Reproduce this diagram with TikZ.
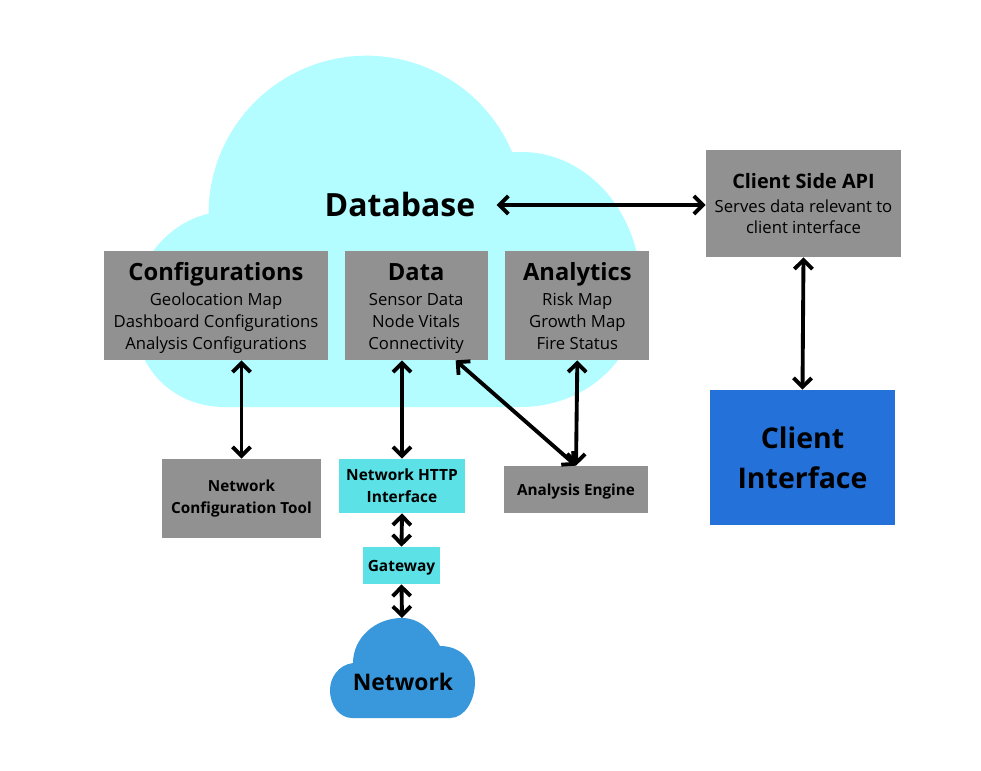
\documentclass[tikz,border=0pt]{standalone}
\usepackage{fontspec}
\setmainfont{Open Sans}
\usepackage{xcolor}
\usepackage{tikz}
\usetikzlibrary{arrows.meta, positioning, calc}

\definecolor{cloudcyan}{RGB}{179,252,255}
\definecolor{boxgray}{RGB}{145,145,145}
\definecolor{ifcyan}{RGB}{92,225,230}
\definecolor{clientblue}{RGB}{35,113,217}
\definecolor{netblue}{RGB}{56,152,219}

\newcommand{\storetitle}[1]{{\bfseries\fontsize{13.5}{15}\selectfont\rule{0pt}{14.6pt}#1}}

\begin{document}
\begin{tikzpicture}[
    x=0.02cm, y=-0.02cm,
    store/.style={fill=boxgray, minimum height=2.18cm, align=center, inner sep=0pt, font=\fontsize{9.5}{12.5}\selectfont},
    tool/.style={fill=boxgray, align=center, inner sep=0pt, font=\bfseries\fontsize{8.7}{12.5}\selectfont},
    iface/.style={fill=ifcyan, align=center, inner sep=0pt, font=\bfseries\fontsize{8.8}{12.5}\selectfont},
    oneline/.style={text depth=0pt},
    dbl/.style={{Straight Barb[length=1.8mm,width=3.6mm]}-{Straight Barb[length=1.8mm,width=3.6mm]}, line width=2.2pt}
]
\useasboundingbox (0,0) rectangle (981,771);

% Database cloud
\fill[cloudcyan] (225,407) -- (520,407) .. controls (590,407) and (641,355) .. (641,290)
    .. controls (641,210) and (585,152) .. (522,152) -- (512,152)
    arc[start angle=-23, end angle=-180, radius=158]
    .. controls (170,222) and (133,262) .. (133,310)
    .. controls (133,365) and (170,407) .. cycle;
\node[font=\bfseries\fontsize{18.2}{20}\selectfont, inner xsep=0.42cm] (db) at (400,205) {Database};

% Stores inside the database
\node[store, minimum width=4.48cm] (conf) at (216,305.5) {\storetitle{Configurations}\\[1.9pt] Geolocation Map\\ Dashboard Configurations\\ Analysis Configurations\strut};
\node[store, minimum width=2.86cm, right=0.32cm of conf] (data) {\storetitle{Data}\\[1.9pt] Sensor Data\\ Node Vitals\\ Connectivity\strut};
\node[store, minimum width=2.88cm, right=0.34cm of data] (ana) {\storetitle{Analytics}\\[1.9pt] Risk Map\\ Growth Map\\ Fire Status\strut};

% Client side
\node[store, minimum width=3.9cm, minimum height=2.14cm, font=\fontsize{9.5}{12}\selectfont] (api) at (803.5,203.5) {{\bfseries\fontsize{11.3}{13}\selectfont Client Side API}\\[1.5pt] Serves data relevant to\\ client interface};
\node[fill=clientblue, minimum width=3.7cm, minimum height=2.7cm, align=center, font=\bfseries\fontsize{16.2}{22.7}\selectfont] (ci) at (802.5,457.5) {Client\\ Interface};

% Tools and interfaces
\node[tool, minimum width=3.18cm, minimum height=1.58cm] (nct) at (241.5,498.5) {Network\\ Configuration Tool};
\node[iface, minimum width=2.52cm, minimum height=1.08cm] (http) at (402,486) {Network HTTP\\ Interface};
\node[tool, oneline, minimum width=2.88cm, minimum height=0.94cm] (ae) at (576,489.5) {Analysis Engine};
\node[iface, oneline, minimum width=1.54cm, minimum height=0.74cm] (gw) at (401.5,565.5) {Gateway};

% Network cloud
\fill[netblue] (352,718) -- (450,718) .. controls (465,718) and (475,700) .. (475,682)
    .. controls (475,660) and (460,646) .. (440,646)
    .. controls (430,628) and (418,618) .. (402,618)
    .. controls (375,618) and (353,638) .. (353,663)
    .. controls (338,665) and (330,678) .. (330,690)
    .. controls (330,706) and (340,718) .. cycle;
\node[font=\bfseries\fontsize{13}{15}\selectfont] (net) at (403,682) {Network};
\coordinate (nettop) at (402,618);

% Connections
\draw[dbl] (db.east) -- (db.east -| api.west);
\draw[dbl] (api.south) -- (ci.north);
\draw[dbl] (conf.south -| nct.north) -- (nct.north);
\draw[dbl] (data.south -| http.north) -- (http.north);
\draw[dbl] (ana.south) -- (ae.north);
\draw[dbl] ($(data.south)!0.55!(data.south east)$) -- (ae.north);
\draw[dbl] (http.south) -- (gw.north);
\draw[dbl] (gw.south) -- (nettop);

\end{tikzpicture}
\end{document}
